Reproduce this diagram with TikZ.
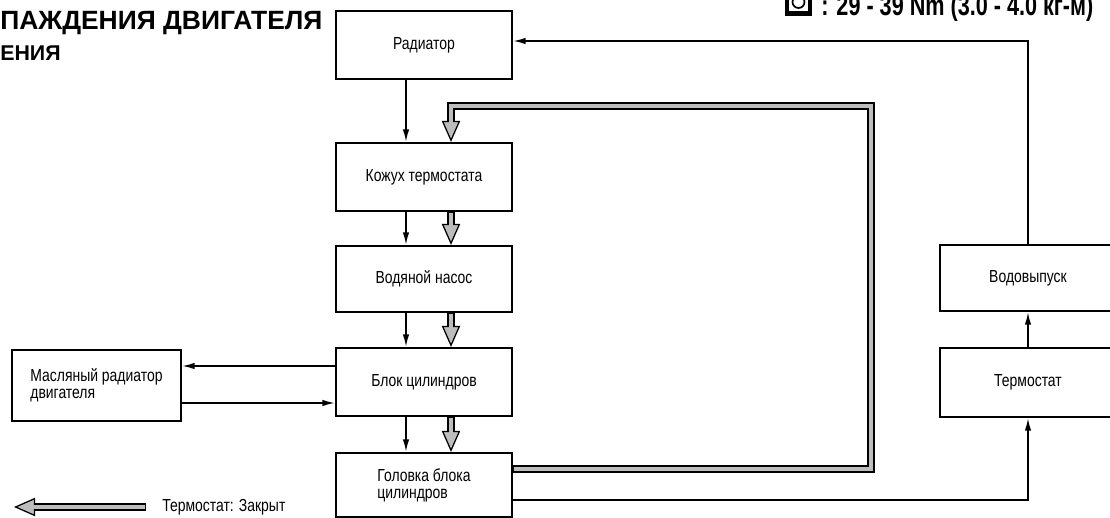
\documentclass[tikz,border=0pt]{standalone}
\usepackage{fontspec}
\setmainfont{Liberation Sans}
\newfontfamily\boxfont[FakeStretch=0.8]{Liberation Sans}
\newfontfamily\torquefont[FakeStretch=0.75]{Liberation Sans Bold}
\usepackage{tikz}
\usetikzlibrary{arrows.meta}
\usepackage{xcolor}
\definecolor{pipefill}{HTML}{BDBDBD}
\tikzset{
  unit/.style={draw,line width=1.5pt,inner sep=0pt,minimum width=44mm,align=left,font=\boxfont\fontsize{12.4}{12.2}\selectfont},
  flow/.style={line width=1.2pt,-{Latex[length=9pt,width=4.6pt]}},
  pipe/.style={line width=5pt,line join=miter,-{Triangle[length=15pt,width=13pt,line width=0.9pt,fill=pipefill]},
    postaction={draw=pipefill,line width=2.8pt,-,shorten >=13.2pt,shorten <=1pt}},
}

\begin{document}
\begin{tikzpicture}[x=0.25mm,y=-0.25mm]
  \useasboundingbox (0,0) rectangle (1110,518);
  \node[anchor=base west,inner sep=0pt,font=\bfseries\fontsize{18.8}{19}\selectfont] (title) at (0,29) {ПАЖДЕНИЯ ДВИГАТЕЛЯ};
  \node[anchor=base west,inner sep=0pt,font=\bfseries\fontsize{15.2}{15}\selectfont] (subtitle) at (0,60) {ЕНИЯ};
  \fill (785,-6) rectangle (812,16);
  \fill[white] (789,-6) rectangle (808,11);
  \draw[line width=1.2pt] (798.5,2) circle (6);
  \node[anchor=base west,inner sep=0pt,font=\torquefont\fontsize{20.5}{21}\selectfont] (torque) at (821,15) {: 29 - 39 Nm (3.0 - 4.0 кг-м)};
  \node[unit,minimum height=17mm] (rad) at (424,45) {Радиатор};
  \node[unit,minimum height=17mm] (koz) at (424,177) {Кожух термостата};
  \node[unit,minimum height=16.5mm] (nasos) at (424,279) {Водяной насос};
  \node[unit,minimum height=17mm] (blok) at (424,382) {Блок цилиндров};
  \node[unit,minimum height=16mm] (golov) at (424,485) {Головка блока\\цилиндров};
  \node[unit,minimum width=42.25mm,minimum height=17.75mm] (masl) at (96.5,385.5) {Масляный радиатор\\двигателя};
  \node[unit,minimum height=16.5mm] (vodov) at (1028,278) {Водовыпуск};
  \node[unit,minimum height=17.25mm] (termo) at (1028,382.5) {Термостат};
  \coordinate (loopturn) at (871,106);
  \coordinate (legtail) at (146,507);
  \coordinate (leghead) at (14,507);
  \draw[flow] ([xshift=-4.5mm]rad.south) -- ([xshift=-4.5mm]koz.north);
  \draw[flow] ([xshift=-4.5mm]koz.south) -- ([xshift=-4.5mm]nasos.north);
  \draw[flow] ([xshift=-4.5mm]nasos.south) -- ([xshift=-4.5mm]blok.north);
  \draw[flow] ([xshift=-4.5mm]blok.south) -- ([xshift=-4.5mm]golov.north);
  \draw[pipe] ([xshift=6.75mm]koz.south) -- ([xshift=6.75mm]nasos.north);
  \draw[pipe] ([xshift=6.75mm]nasos.south) -- ([xshift=6.75mm]blok.north);
  \draw[pipe] ([xshift=6.75mm]blok.south) -- ([xshift=6.75mm]golov.north);
  \draw[pipe] ([yshift=4mm]golov.east) -| (loopturn) -| ([xshift=6.75mm]koz.north);
  \draw[flow] ([yshift=4mm]blok.west) -- ([yshift=4mm]blok.west -| masl.east);
  \draw[flow] ([yshift=-5.25mm]blok.west -| masl.east) -- ([yshift=-5.25mm]blok.west);
  \draw[flow] ([yshift=-3.75mm]golov.east) -| (termo.south);
  \draw[flow] (termo.north) -- (vodov.south);
  \draw[flow] (vodov.north) |- ([yshift=1mm]rad.east);
  \draw[pipe] (legtail) -- (leghead);
  \node[anchor=west,inner sep=0pt,font=\boxfont\fontsize{12.4}{12}\selectfont] (legtext) at (162,507) {Термостат: Закрыт};
\end{tikzpicture}
\end{document}
